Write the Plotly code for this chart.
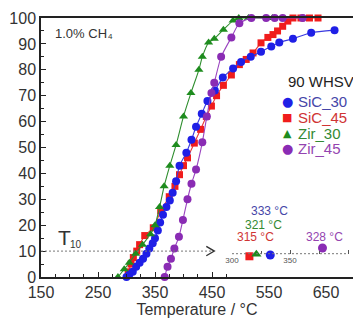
import plotly.graph_objects as go

# ---------------- data ----------------
series_names = ["SiC_30", "SiC_45", "Zir_30", "Zir_45"]

sic30_t = [300, 305, 311, 317, 323, 329, 335, 340, 346, 350, 355, 359, 364, 370, 376, 381, 387,
           393, 405, 414, 422, 432, 442, 455, 469, 487, 501, 518, 536, 554, 568, 592, 624, 665]
sic30_y = [0, 1, 2, 4, 5.5, 7, 9, 11, 13, 15, 18, 21, 24, 27, 29.5, 32.5, 37,
           43, 48, 53, 58, 63, 68, 72, 77, 80.5, 83, 85, 87, 89, 90.5, 92, 94.3, 95.3]

sic45_t = [303, 308, 312, 318, 323, 332, 347, 360, 375, 385, 393, 400, 407, 419, 430, 440, 449,
           458, 470, 484, 498, 510, 522, 536, 548, 557, 565, 574, 583, 592, 606, 621, 636]
sic45_y = [2, 5, 7.5, 10, 12.5, 16, 19, 25.5, 31, 35, 39.5, 43, 46, 51.7, 57, 62, 66,
           70, 74, 78, 82, 84, 86.5, 90.4, 92.5, 93.6, 95, 96.8, 98.8, 100, 100, 100, 100]

zir30_t = [285, 296, 305, 316, 328, 342, 350, 358, 366, 376, 387, 400, 413, 427, 433, 444,
           454, 470, 487, 497, 514, 556]
zir30_y = [0, 3, 5.5, 9, 12.5, 16.5, 20, 27, 35, 43, 51, 62, 71, 80, 85, 90.5,
           92, 95.5, 99, 100, 100, 100]

zir45_t = [367, 372, 378, 384, 392, 399, 407, 414, 422, 433, 441, 449, 454, 466, 484, 498,
           519, 545, 560, 574, 609]
zir45_y = [0, 4, 7, 11, 15.5, 22, 30, 36, 41.5, 52, 62, 71, 75, 85, 92.5, 98,
           100, 100, 100, 100, 100]

# T10 inset (marker positions as drawn, labels as printed)
t10_values = [333, 315, 321, 378]
t10_labels = ["333 °C", "315 °C", "321 °C", "328 °C"]

x_ticks = [150, 250, 350, 450, 550, 650]
y_ticks = [0, 10, 20, 30, 40, 50, 60, 70, 80, 90, 100]
inset_ticks = [300, 350, 400]
t10_level = 10

# ---------------- style ----------------
marker_colors = ["#1f1fe6", "#f01c1c", "#1e8c1e", "#8a2cb4"]
line_colors = ["#3a3ae0", "#e83a3a", "#2e8e2e", "#9a44c0"]
text_colors = ["#4646a8", "#d03434", "#338a33", "#9444b0"]
symbols = ["circle", "square", "triangle-up", "circle"]
sizes = [8, 7, 8, 8]
glyphs = ["●", "■", "▲", "●"]
glyph_sizes = [13, 11, 11, 13]
inset_yoff = [-0.05, -0.1, -0.02, 0.22]
label_dx = [-1, 5, 6, 2]
label_py = [211, 237, 225, 237]

W, H = 353, 320
L, R, T, B = 41, 0, 18, 43
pw, ph = W - L - R, H - T - B


def pxx(x):
    return (x - L) / pw


def pyy(y):
    return (H - B - y) / ph


FONT = "Liberation Sans, Arial, Helvetica, sans-serif"

fig = go.Figure()
all_t = [sic30_t, sic45_t, zir30_t, zir45_t]
all_y = [sic30_y, sic45_y, zir30_y, zir45_y]
order = [1, 0, 2, 3]
for i in order:
    fig.add_trace(go.Scatter(
        x=all_t[i], y=all_y[i], mode="lines+markers", name=series_names[i],
        line=dict(color=line_colors[i], width=1.1, shape="spline", smoothing=0.6),
        marker=dict(symbol=symbols[i], size=sizes[i], color=marker_colors[i]),
        cliponaxis=False, showlegend=False,
    ))

# inset markers
for i in range(4):
    fig.add_trace(go.Scatter(
        x=[t10_values[i]], y=[inset_yoff[i]], mode="markers", xaxis="x2", yaxis="y2",
        marker=dict(symbol=symbols[i], size=sizes[i] + 1, color=marker_colors[i]),
        cliponaxis=False, showlegend=False,
    ))

shapes = [
    dict(type="line", xref="x", yref="y", x0=150, x1=453, y0=t10_level, y1=t10_level,
         line=dict(color="#777777", width=1, dash="2px,2px")),
    dict(type="path", xref="x", yref="y",
         path=f"M 440,{t10_level + 1.8} L 454,{t10_level} L 440,{t10_level - 1.8}",
         line=dict(color="#333333", width=1.4)),
    dict(type="line", xref="x2", yref="y2", x0=inset_ticks[0], x1=inset_ticks[-1], y0=0, y1=0,
         line=dict(color="#777777", width=1, dash="2px,2px")),
]

annotations = [
    dict(text="1.0% CH", x=pxx(53), y=pyy(33), xref="paper", yref="paper",
         xanchor="left", yanchor="middle", showarrow=False,
         font=dict(family=FONT, size=13, color="#333333")),
    dict(text="4", x=pxx(106), y=pyy(37), xref="paper", yref="paper",
         xanchor="left", yanchor="middle", showarrow=False,
         font=dict(family=FONT, size=8, color="#333333")),
    dict(text="T", x=pxx(56), y=pyy(237), xref="paper", yref="paper",
         xanchor="left", yanchor="middle", showarrow=False,
         font=dict(family=FONT, size=21, color="#333333")),
    dict(text="10", x=pxx(68), y=pyy(244), xref="paper", yref="paper",
         xanchor="left", yanchor="middle", showarrow=False,
         font=dict(family=FONT, size=10, color="#333333")),
    dict(text="90 WHSV", x=pxx(286), y=pyy(82), xref="paper", yref="paper",
         xanchor="left", yanchor="middle", showarrow=False,
         font=dict(family=FONT, size=15, color="#222222")),
]
leg_y = [101, 117, 133, 148]
for i in range(4):
    annotations.append(dict(text=glyphs[i], x=pxx(287), y=pyy(leg_y[i]), xref="paper",
                            yref="paper", xanchor="center", yanchor="middle", showarrow=False,
                            font=dict(family="DejaVu Sans", size=glyph_sizes[i],
                                      color=marker_colors[i])))
    annotations.append(dict(text=series_names[i], x=pxx(296), y=pyy(leg_y[i]), xref="paper",
                            yref="paper", xanchor="left", yanchor="middle", showarrow=False,
                            font=dict(family=FONT, size=15, color=text_colors[i])))
    annotations.append(dict(text=t10_labels[i], x=t10_values[i] + label_dx[i], y=pyy(label_py[i]),
                            xref="x2", yref="paper", xanchor="center", yanchor="middle",
                            showarrow=False,
                            font=dict(family=FONT, size=12, color=text_colors[i])))

fig.update_layout(
    width=W, height=H,
    margin=dict(l=L, r=R, t=T, b=B),
    paper_bgcolor="white", plot_bgcolor="white",
    font=dict(family=FONT, color="#333333"),
    shapes=shapes, annotations=annotations,
    xaxis=dict(
        range=[150, 150 + pw / 0.57], tickvals=x_ticks, ticks="inside", ticklen=5,
        tickcolor="#222222", showline=True, linecolor="#222222", linewidth=1.5,
        mirror=True, showgrid=False, zeroline=False,
        tickfont=dict(family=FONT, size=16, color="#333333"),
        minor=dict(dtick=25, tick0=150, ticks="inside", ticklen=3, tickcolor="#222222"),
        title=dict(text="Temperature / °C", font=dict(family=FONT, size=16, color="#333333"),
                   standoff=4),
    ),
    yaxis=dict(
        range=[0, 100], tickvals=y_ticks, ticks="inside", ticklen=5, tickcolor="#222222",
        showline=True, linecolor="#222222", linewidth=1.5, showgrid=False, zeroline=False,
        tickfont=dict(family=FONT, size=16, color="#333333"),
        minor=dict(dtick=5, tick0=0, ticks="inside", ticklen=3, tickcolor="#222222"),
    ),
    xaxis2=dict(
        domain=[pxx(232), 1.0], range=[300, 300 + (W - 232) / 1.16], anchor="free",
        position=pyy(253.7),
        tickvals=inset_ticks, ticks="inside", ticklen=4, tickcolor="#555555",
        showline=False, showgrid=False, zeroline=False,
        minor=dict(dtick=25, tick0=300, ticks="inside", ticklen=3, tickcolor="#555555"),
        tickfont=dict(family=FONT, size=8, color="#555555"),
    ),
    yaxis2=dict(
        domain=[0, 0.2], range=[-0.9, 1.1], anchor="x2", visible=False,
    ),
)

fig.write_html("out.html")
